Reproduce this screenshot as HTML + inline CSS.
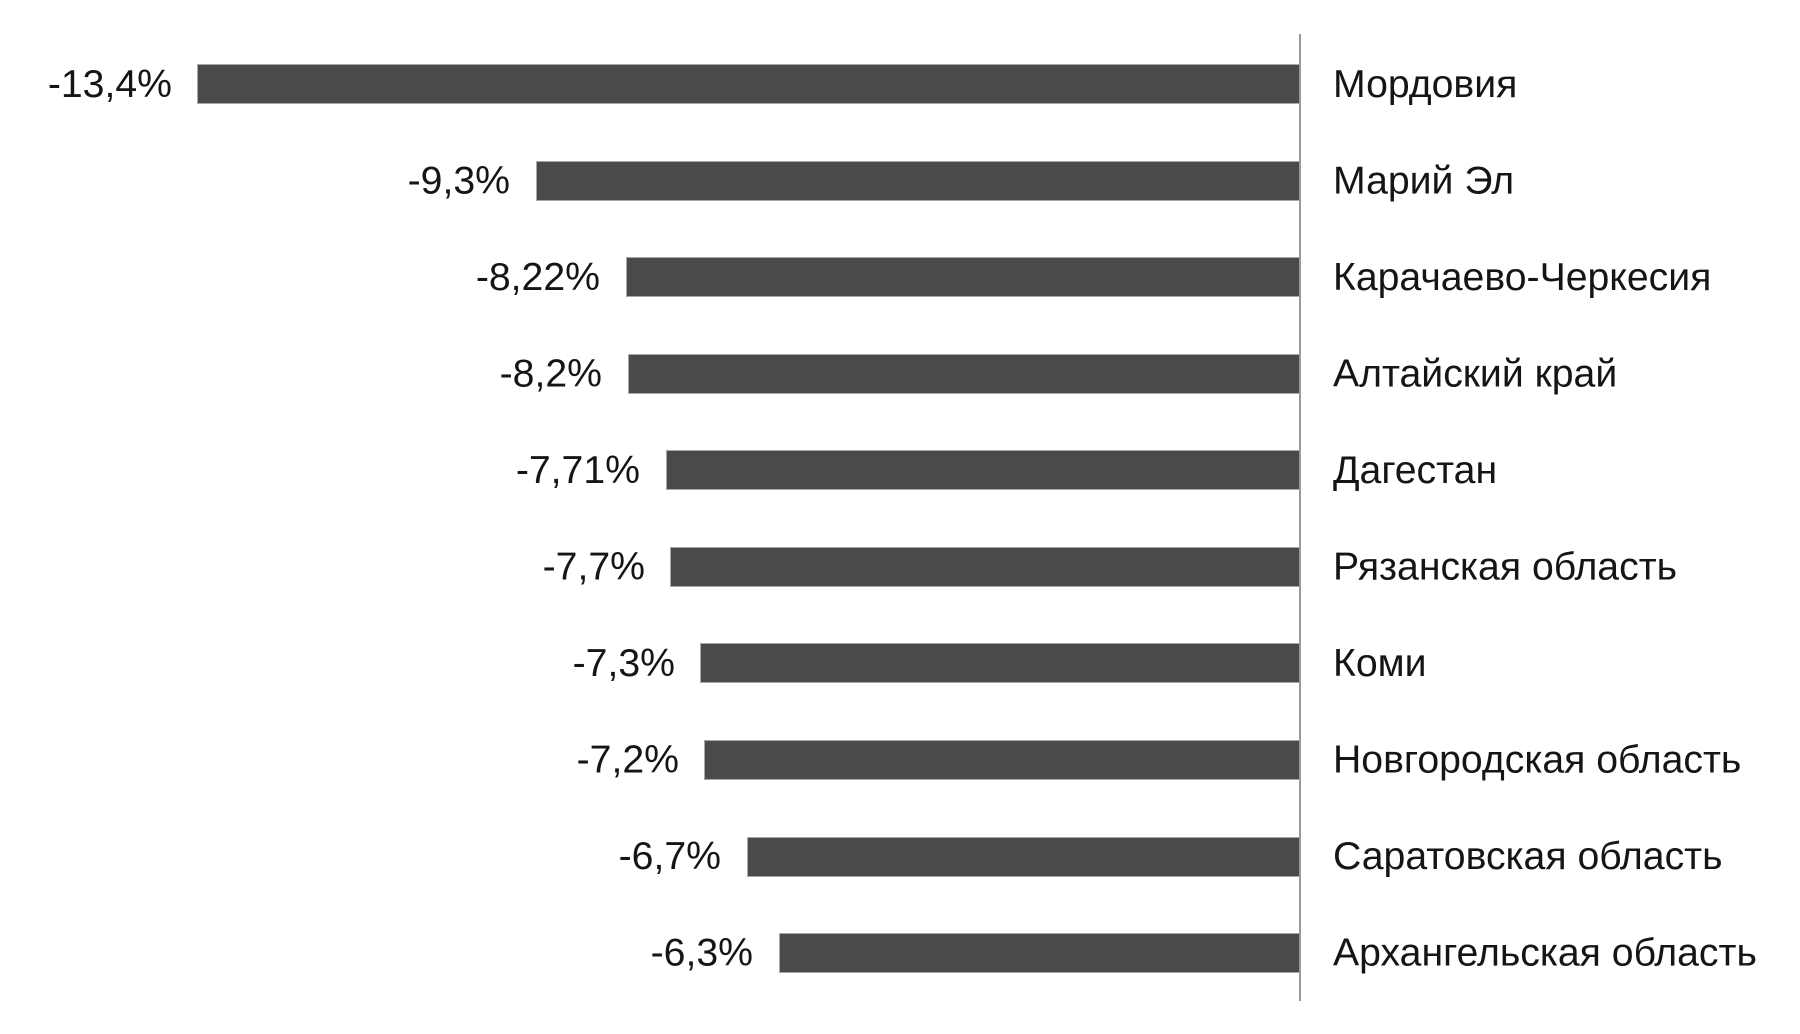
<!DOCTYPE html>
<html><head><meta charset="utf-8"><style>
html,body{margin:0;padding:0;background:#fff;}
svg{display:block;}
text{font-family:"Liberation Sans",Arial,sans-serif;font-size:39.2px;fill:#151515;}
</style></head><body>
<svg width="1800" height="1034" viewBox="0 0 1800 1034" xmlns="http://www.w3.org/2000/svg">
<rect width="1800" height="1034" fill="#fff"/>
<g fill="#4a4a4a" stroke="#a8a8a8" stroke-width="1">
<rect x="197.5" y="64.5" width="1102" height="39"/>
<rect x="536.5" y="161.5" width="763" height="39"/>
<rect x="626.5" y="257.5" width="673" height="39"/>
<rect x="628.5" y="354.5" width="671" height="39"/>
<rect x="666.5" y="450.5" width="633" height="39"/>
<rect x="670.5" y="547.5" width="629" height="39"/>
<rect x="700.5" y="643.5" width="599" height="39"/>
<rect x="704.5" y="740.5" width="595" height="39"/>
<rect x="747.5" y="837.5" width="552" height="39"/>
<rect x="779.5" y="933.5" width="520" height="39"/>
</g>
<line x1="1300" y1="34" x2="1300" y2="1001" stroke="#999" stroke-width="2"/>
<g text-anchor="end">
<text x="172" y="97">-13,4%</text>
<text x="510" y="193.5">-9,3%</text>
<text x="600" y="290">-8,22%</text>
<text x="602" y="386.5">-8,2%</text>
<text x="640" y="483">-7,71%</text>
<text x="645" y="579.5">-7,7%</text>
<text x="675" y="676">-7,3%</text>
<text x="679" y="772.5">-7,2%</text>
<text x="721" y="869">-6,7%</text>
<text x="753" y="965.5">-6,3%</text>
</g>
<g>
<text x="1333" y="97">Мордовия</text>
<text x="1333" y="193.5">Марий Эл</text>
<text x="1333" y="290">Карачаево-Черкесия</text>
<text x="1333" y="386.5">Алтайский край</text>
<text x="1333" y="483">Дагестан</text>
<text x="1333" y="579.5">Рязанская область</text>
<text x="1333" y="676">Коми</text>
<text x="1333" y="772.5">Новгородская область</text>
<text x="1333" y="869">Саратовская область</text>
<text x="1333" y="965.5">Архангельская область</text>
</g>
</svg>
</body></html>
